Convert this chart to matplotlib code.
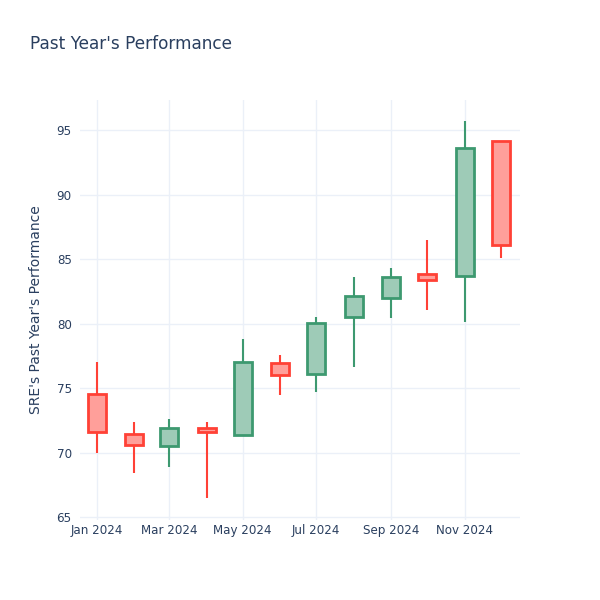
import matplotlib

matplotlib.use("Agg")
import matplotlib.pyplot as plt
import matplotlib.dates as mdates
from datetime import datetime

# monthly OHLC
months = ["2024-01-01", "2024-02-01", "2024-03-01", "2024-04-01", "2024-05-01", "2024-06-01",
          "2024-07-01", "2024-08-01", "2024-09-01", "2024-10-01", "2024-11-01", "2024-12-01"]
opens = [74.53, 71.43, 70.53, 71.87, 71.36, 76.96, 76.09, 80.50, 81.95, 83.81, 83.70, 94.12]
highs = [77.04, 72.34, 72.57, 72.34, 78.80, 77.53, 80.48, 83.63, 84.33, 86.50, 95.70, 94.12]
lows = [69.98, 68.43, 68.90, 66.45, 71.36, 74.43, 74.67, 76.65, 80.45, 81.07, 80.09, 85.05]
closes = [71.56, 70.58, 71.87, 71.56, 77.00, 76.00, 80.06, 82.13, 83.60, 83.35, 93.60, 86.10]

y_ticks = [65, 70, 75, 80, 85, 90, 95]
x_ticks = ["2024-01-01", "2024-03-01", "2024-05-01", "2024-07-01", "2024-09-01", "2024-11-01"]

INC_LINE, INC_FILL = "#3D9970", "#9ECBB7"
DEC_LINE, DEC_FILL = "#FF4136", "#FF9F9A"
TEXT = "#2a3f5f"
GRID = "#EBF0F8"

fig = plt.figure(figsize=(6, 6), dpi=100)
ax = fig.add_axes([80 / 600, 80 / 600, 440 / 600, 420 / 600])

xs = [mdates.date2num(datetime.fromisoformat(m)) for m in months]
body_w = 15  # days

for x, o, h, l, c in zip(xs, opens, highs, lows, closes):
    up = c >= o
    line = INC_LINE if up else DEC_LINE
    fill = INC_FILL if up else DEC_FILL
    top, bot = max(o, c), min(o, c)
    ax.vlines(x, top, h, color=line, linewidth=1.5, zorder=3)
    ax.vlines(x, l, bot, color=line, linewidth=1.5, zorder=3)
    ax.bar(x, top - bot, bottom=bot, width=body_w, facecolor=fill,
           edgecolor=line, linewidth=2, zorder=4)

ax.set_ylim(64.77, 97.33)
ax.set_xlim(mdates.date2num(datetime(2023, 12, 18)), mdates.date2num(datetime(2024, 12, 17)))
ax.set_yticks(y_ticks)
ax.set_xticks([mdates.date2num(datetime.fromisoformat(d)) for d in x_ticks])
ax.xaxis.set_major_formatter(mdates.DateFormatter("%b %Y"))

ax.grid(True, color=GRID, linewidth=1)
ax.set_axisbelow(True)
for s in ax.spines.values():
    s.set_visible(False)
ax.tick_params(length=0, labelsize=8.6, labelcolor=TEXT)
ax.tick_params(axis="y", pad=6)
ax.tick_params(axis="x", pad=3)

ax.set_ylabel("SRE's Past Year's Performance", fontsize=10, color=TEXT, labelpad=10)
fig.text(30 / 600, 1 - 44 / 600, "Past Year's Performance", fontsize=12.2, color=TEXT,
         ha="left", va="center")

fig.savefig("out.png", dpi=100)
